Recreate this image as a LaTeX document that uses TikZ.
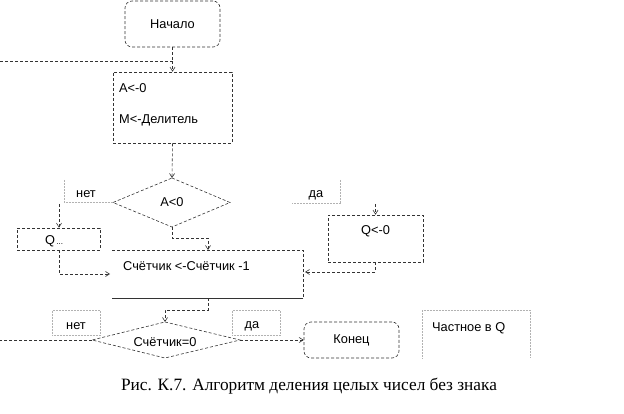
\documentclass[tikz,border=0pt]{standalone}
\usepackage{fontspec}
\setmainfont{Liberation Serif}
\newfontfamily\diagfont{Liberation Sans}
\usetikzlibrary{arrows.meta,shapes.geometric}
\begin{document}
\begin{tikzpicture}[x=1pt,y=-1pt,
  ln/.style={draw=black!80, densely dashed, line width=0.6pt},
  arr/.style={ln, -{Straight Barb[open,length=4pt,width=5pt]}},
  blk/.style={ln, minimum width=#1, inner sep=0pt},
  rnd/.style={ln, rounded corners=7pt, inner sep=0pt, font=\diagfont\fontsize{12.8}{15}\selectfont},
  lbl/.style={font=\diagfont\fontsize{12.8}{15}\selectfont, inner sep=0pt},
  gry/.style={draw=black!30, densely dotted, line width=0.5pt}
]
\useasboundingbox (0,0) rectangle (624,414);

% Start
\node[rnd, minimum width=95pt, minimum height=46pt] (start) at (172.5,24) {Начало};
% first block
\node[blk=119pt, minimum height=71pt] (init) at (172.5,107.5) {};
\node[lbl, anchor=west] (ta) at (119,88) {A<-0};
\node[lbl, anchor=west] (tm) at (119,120) {M<-Делитель};
\coordinate (loopin) at (0,61);
\coordinate (joinA) at (172.5,61);
\draw[ln] (loopin) -- (joinA);
\draw[ln] (start.south) -- (joinA);
\draw[arr] (joinA) -- (init.north);

% diamond A<0
\coordinate (d1t) at (172,178);
\coordinate (d1b) at (172,227);
\coordinate (d1l) at (113,202.5);
\coordinate (d1r) at (230,202.5);
\draw[ln] (d1t) -- (d1r) -- (d1b) -- (d1l) -- cycle;
\node[lbl] (d1txt) at (172,202) {A<0};
\draw[arr] (init.south) -- (d1t);

% labels нет / да
\node[lbl] (no1) at (86,194) {нет};
\coordinate (no1a) at (64,180);
\coordinate (no1b) at (64,202.5);
\draw[gry] (no1a) -- (no1b) -- (d1l);
\node[lbl] (yes1) at (316,195) {да};
\coordinate (yes1a) at (340,180);
\coordinate (yes1b) at (340,203);
\coordinate (yes1c) at (291,203);
\draw[gry] (yes1a) -- (yes1b) -- (yes1c);

% left box Q
\node[blk=83pt, minimum height=22pt] (qinc) at (58.5,239) {};
\node[lbl, anchor=west] (qinct) at (45,241) {Q\fontsize{8}{9}\selectfont\,...};
\coordinate (lft) at (59,204);
\draw[arr] (lft) -- (qinc.north -| lft);

% right box Q<-0
\node[blk=95pt, minimum height=47pt] (qz) at (375.5,238.5) {};
\node[lbl] (qzt) at (375.5,231) {Q<-0};
\coordinate (qzin) at (375.5,204);
\draw[arr] (qzin) -- (qz.north);

% counter box (top, right, bottom drawn)
\coordinate (cnw) at (112,250);
\coordinate (cne) at (303,250);
\coordinate (cse) at (303,298);
\coordinate (csw) at (112,298);
\draw[ln] (cnw) -- (cne) -- (cse);
\draw[black!80, line width=0.7pt] (cse) -- (csw);
\node[lbl, anchor=west] (cnt) at (123,266) {Счётчик <-Счётчик -1};

% connectors into counter
\coordinate (c1) at (59,274);
\coordinate (c1e) at (110,274);
\draw[arr] (qinc.south -| c1) -- (c1) -- (c1e);
\coordinate (d1b2) at (172,238);
\coordinate (d1b3) at (208,238);
\coordinate (ctop) at (208,250);
\draw[arr] (d1b) -- (d1b2) -- (d1b3) -- (ctop);
\coordinate (r1) at (375.5,272);
\coordinate (r1e) at (305,272);
\draw[arr] (qz.south) -- (r1) -- (r1e);

% bottom diamond
\coordinate (d2t) at (165,322);
\coordinate (d2b) at (165,358);
\coordinate (d2l) at (92,340);
\coordinate (d2r) at (240,340);
\draw[ln] (d2t) -- (d2r) -- (d2b) -- (d2l) -- cycle;
\node[lbl] (d2txt) at (165,342) {Счётчик=0};
\coordinate (cbot) at (208,298);
\coordinate (cb1) at (208,310);
\coordinate (cb2) at (165,310);
\draw[arr] (cbot) -- (cb1) -- (cb2) -- (d2t);

% labels
\node[gry, minimum width=48pt, minimum height=25pt] (no2box) at (76,322.5) {};
\node[lbl] (no2) at (76,326) {нет};
\node[gry, minimum width=48pt, minimum height=25pt] (yes2box) at (256,322.5) {};
\node[lbl] (yes2) at (252,326) {да};

% loop back
\coordinate (loopout) at (0,340);
\draw[ln] (d2l) -- (loopout);

% end
\node[rnd, minimum width=95pt, minimum height=36pt] (fin) at (351.5,340) {Конец};
\draw[arr] (d2r) -- (fin.west);

% note
\coordinate (n1) at (422,358);
\coordinate (n2) at (422,310);
\coordinate (n3) at (530,310);
\coordinate (n4) at (530,358);
\draw[gry] (n1) -- (n2) -- (n3) -- (n4);
\node[lbl, anchor=west] (note) at (432,328) {Частное в Q};

% caption
\node[font=\fontsize{17.3}{19}\selectfont, inner sep=0pt] (cap) at (309,386) {Рис. К.7. Алгоритм деления целых чисел без знака};
\end{tikzpicture}
\end{document}
